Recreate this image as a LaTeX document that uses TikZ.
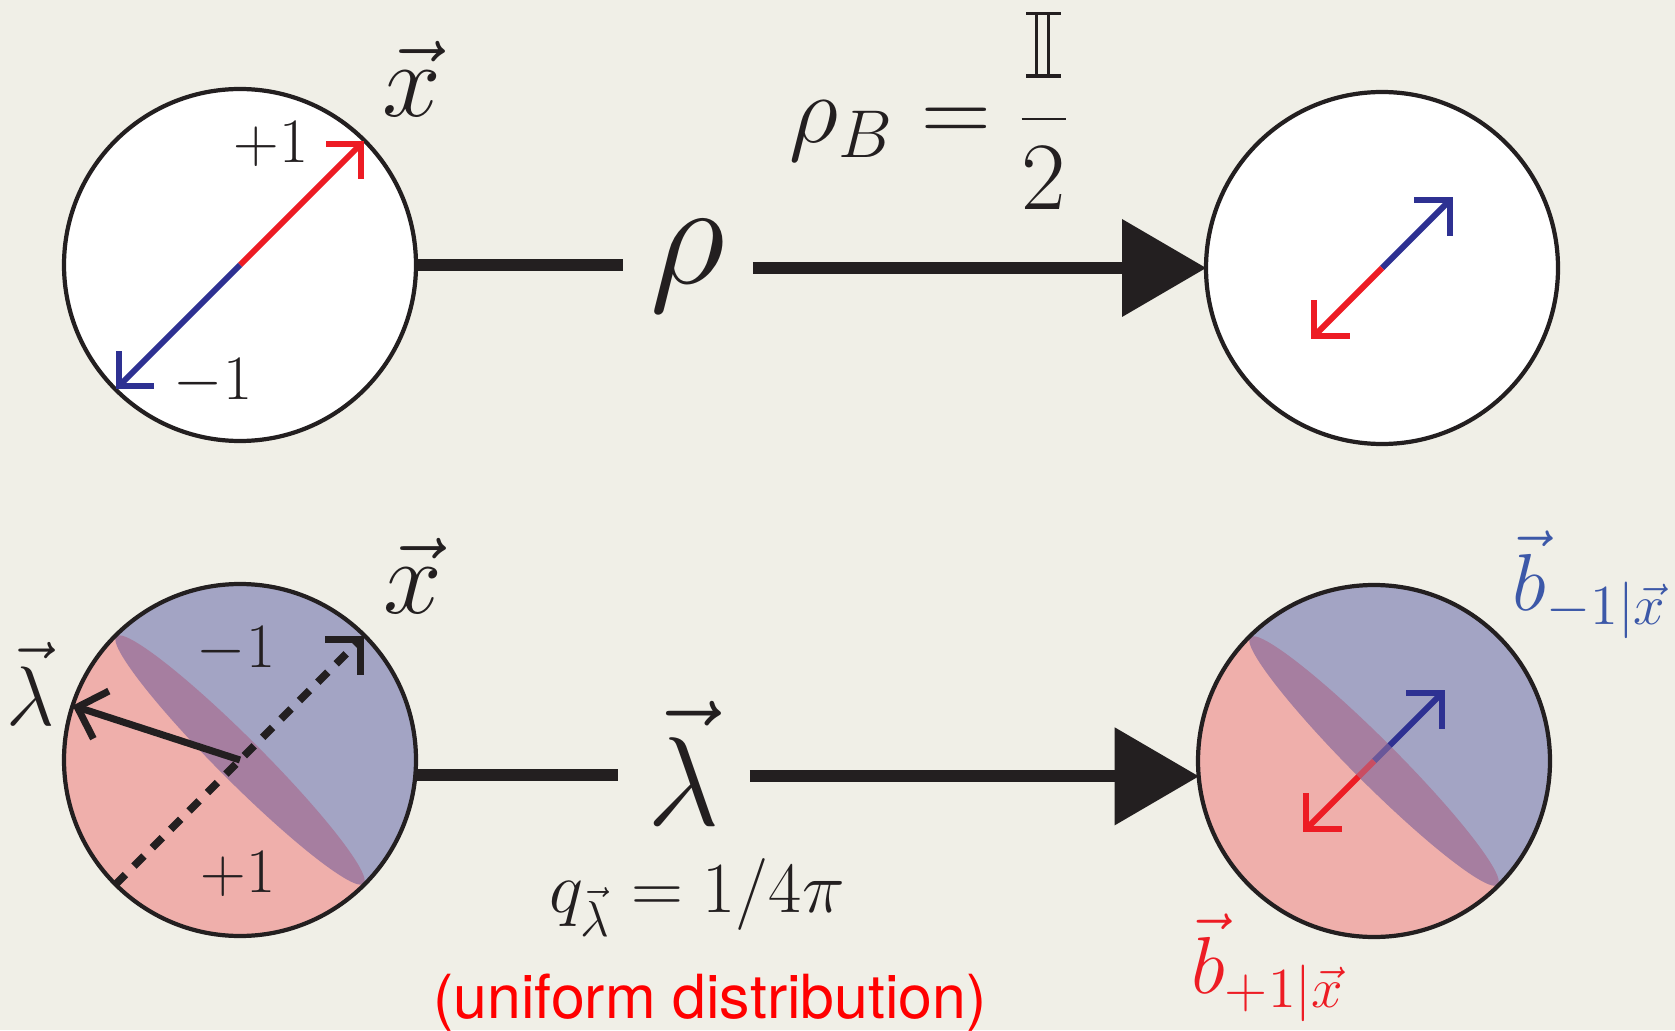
\RequirePackage{fix-cm}
\documentclass[tikz,border=0pt]{standalone}
\usepackage{fontspec}
\newfontfamily\helvfont{TeX Gyre Heros}
\usetikzlibrary{arrows.meta}

\definecolor{ink}{RGB}{35,31,32}
\definecolor{cream}{RGB}{240,239,231}
\definecolor{arrred}{RGB}{237,28,36}
\definecolor{arrblue}{RGB}{46,49,146}
\definecolor{hemblue}{RGB}{163,164,196}
\definecolor{hemred}{RGB}{239,175,171}
\definecolor{bandpurple}{RGB}{166,126,160}
\definecolor{labblue}{RGB}{60,88,168}
\definecolor{textred}{RGB}{255,0,0}

\newcommand{\idty}{\mbox{\makebox[0.36em][l]{%
    \rule{0.36em}{0.035em}%
    \hspace{-0.36em}\raisebox{0.648em}{\rule{0.36em}{0.035em}}%
    \hspace{-0.27em}\rule{0.028em}{0.683em}%
    \hspace{0.1em}\rule{0.028em}{0.683em}}}}

\begin{document}
\begin{tikzpicture}[
    rim/.style={draw=ink, line width=1.2pt},
    ball/.style={circle, minimum size=3.52cm, inner sep=0pt, outer sep=0pt},
    link/.style={draw=ink, line width=3.4pt},
    bigtip/.style={-{Triangle[length=8.4mm, width=9.8mm, line width=0pt]}},
    spin/.style={line width=1.7pt, -{Straight Barb[length=2.5mm, width=5mm]}},
    sz/.style={font=\fontsize{#1}{#1}\selectfont, inner sep=1pt},
    every node/.append style={text=ink}
]
    \fill[cream] (0,0) rectangle (16.75,10.30);
    \useasboundingbox (0,0) rectangle (16.75,10.30);

    \node[ball, rim, fill=white] (TL) at (2.40,7.65) {};
    \node[ball, rim, fill=white] (TR) at (13.82,7.62) {};
    \node[sz=42, anchor=base, inner xsep=0.27cm] (rho) at (6.88,7.46) {$\rho$};

    \draw[link] (TL.east) -- (TL.east -| rho.west);
    \draw[link, bigtip] (rho.east |- TR.west) -- (TR.west);

    \draw[spin, arrred] (TL.center) -- (TL.45);
    \draw[spin, arrblue] (TL.center) -- (TL.225);
    \draw[spin, arrblue] (TR.center) -- ++(45:1.0);
    \draw[spin, arrred] (TR.center) -- ++(225:1.0);

    \node[sz=30, anchor=base] (xtop) at (4.12,9.13) {$\vec x$};
    \node[sz=18, anchor=base] (ptop) at (2.71,8.67) {$+1$};
    \node[sz=18, anchor=base] (mtop) at (2.13,6.30) {$-1$};
    \node[sz=27.5, anchor=base] (rhoB) at (9.30,8.87) {$\displaystyle\rho_B = \frac{\idty}{2}$};

    \node[ball] (BL) at (2.40,2.70) {};
    \node[ball] (BR) at (13.74,2.69) {};

    \foreach \s in {BL,BR} {
        \begin{scope}[shift={(\s.center)}]
            \fill[hemblue] (-45:1.76) arc[start angle=-45, end angle=135, radius=1.76] -- cycle;
            \fill[hemred] (135:1.76) arc[start angle=135, end angle=315, radius=1.76] -- cycle;
            \fill[bandpurple, rotate=135] (0,0) ellipse[x radius=1.75, y radius=0.22];
        \end{scope}
    }

    \draw[spin, ink, line width=2.2pt, dash pattern=on 4pt off 3.4pt] (BL.225) -- (BL.45);
    \draw[spin, ink, line width=2pt] (BL.center) -- (BL.162);

    \draw[spin, arrblue] (BR.center) -- ++(45:1.0);
    \draw[spin, arrred] (BR.center) -- ++(225:1.0);
    \fill[bandpurple, opacity=0.5, shift={(BR.center)}, rotate=135] (0,0) ellipse[x radius=1.75, y radius=0.22];

    \draw[rim] (BL) circle[radius=1.76];
    \draw[rim] (BR) circle[radius=1.76];

    \node[sz=36, anchor=base, inner xsep=0.29cm] (lam) at (6.84,2.05) {$\vec\lambda$};
    \draw[link] (BL.355) -- (BL.355 -| lam.west);
    \draw[link, bigtip] (lam.east |- BR.185) -- (BR.185);

    \node[sz=30, anchor=base] (xbot) at (4.13,4.17) {$\vec x$};
    \node[sz=24, anchor=base] (lamL) at (0.31,3.05) {$\vec\lambda$};
    \node[sz=18, anchor=base] (mbot) at (2.36,3.63) {$-1$};
    \node[sz=18, anchor=base] (pbot) at (2.38,1.38) {$+1$};
    \node[sz=20.5, anchor=base] (qlam) at (6.97,1.18) {$q_{\vec\lambda} = 1/4\pi$};
    \node[anchor=base, inner sep=1pt, text=textred, font=\helvfont\fontsize{17.3}{17.3}\selectfont] (unif) at (7.10,0.12) {(uniform distribution)};
    \node[sz=23, anchor=base, text=labblue] (bm) at (15.90,4.20) {$\vec b_{-1|\vec x}$};
    \node[sz=23, anchor=base, text=arrred] (bp) at (12.68,0.37) {$\vec b_{+1|\vec x}$};
\end{tikzpicture}
\end{document}
